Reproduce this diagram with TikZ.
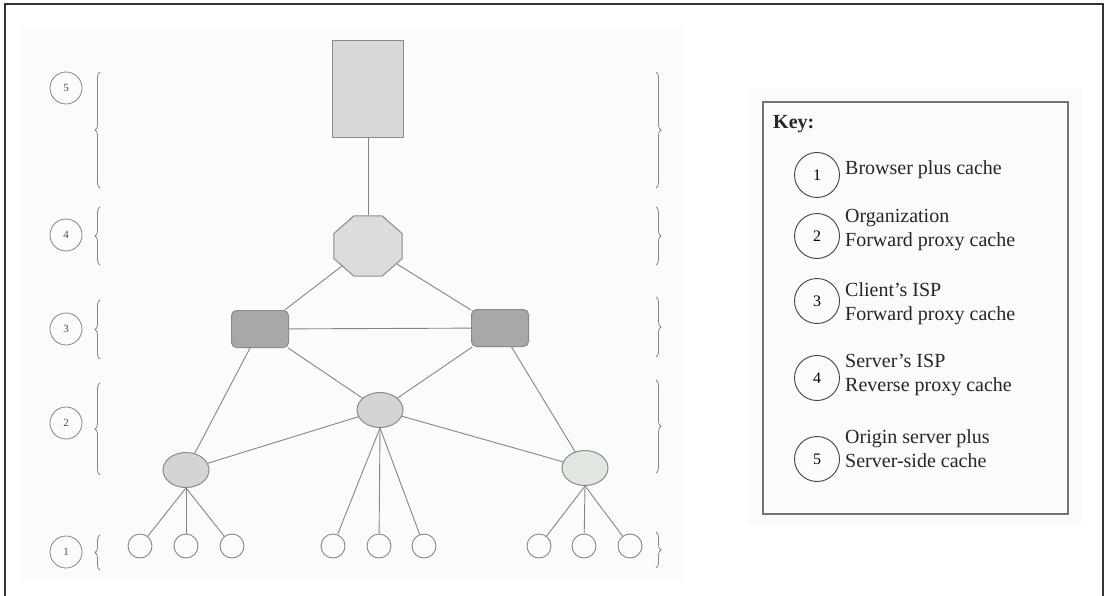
\documentclass[tikz,border=0pt]{standalone}
\usepackage{fontspec}
\setmainfont{Liberation Serif}
\usetikzlibrary{shapes.geometric,decorations.pathreplacing}
\definecolor{lnc}{HTML}{858585}
\definecolor{edgec}{HTML}{8A8A8A}
\definecolor{srvfill}{HTML}{D8D8D8}
\definecolor{octfill}{HTML}{DCDCDC}
\definecolor{ispfill}{HTML}{A8A8A8}
\definecolor{orgfill}{HTML}{D4D4D4}
\definecolor{orgfillb}{HTML}{E0E6E0}
\definecolor{bgc}{HTML}{FBFBFB}
\begin{document}
\begin{tikzpicture}[x=1pt,y=-1pt,
  conn/.style={draw=lnc, line width=0.9pt},
  server/.style={draw=edgec, fill=srvfill, line width=1pt, minimum width=71pt, minimum height=97pt, inner sep=0pt},
  octa/.style={regular polygon, regular polygon sides=8, draw=edgec, fill=octfill, line width=1pt, minimum size=65pt, inner sep=0pt, xscale=1.14, transform shape},
  isp/.style={rounded corners=5pt, draw=edgec, fill=ispfill, line width=1pt, minimum width=57pt, minimum height=37pt, inner sep=0pt},
  org/.style={ellipse, draw=edgec, fill=orgfill, line width=1pt, minimum width=46pt, minimum height=35pt, inner sep=0pt},
  client/.style={circle, draw=lnc, line width=0.9pt, minimum size=24pt, inner sep=0pt},
  lvl/.style={circle, draw=lnc, line width=0.8pt, minimum size=32pt, inner sep=0pt, text=black!70, font=\fontsize{11}{13}\selectfont},
  brc/.style={draw=lnc, line width=0.8pt, decorate, decoration={brace, amplitude=5pt}},
  keynum/.style={circle, draw=black!75, line width=0.9pt, minimum size=45pt, inner sep=0pt, font=\fontsize{16}{18}\selectfont},
  keytxt/.style={anchor=west, align=left, inner sep=0pt, text=black!85, font=\fontsize{20}{24}\selectfont}
]
\useasboundingbox (0,0) rectangle (1108,596);
% faint scan backgrounds
\fill[bgc] (20,27) rectangle (684,579);
\fill[bgc] (747,88) rectangle (1082,526);
% outer frame (no bottom edge visible)
\draw[black!80, line width=1.2pt] (5,596) -- (5,4) -- (1103,4) -- (1103,596);

% nodes
\node[server] (srv) at (368,89) {};
\node[octa] (oct) at (368,246) {};
\node[isp] (ispL) at (260,329) {};
\node[isp] (ispR) at (500,328) {};
\node[org] (orgM) at (380,410) {};
\node[org] (orgL) at (186,470) {};
\node[org, fill=orgfillb] (orgR) at (585,468) {};
\foreach \n/\x in {c1/140, c2/186, c3/232, c4/333, c5/379, c6/424, c7/539, c8/584, c9/630}
  \node[client] (\n) at (\x,546) {};

% connectors
\draw[conn] (srv) -- (oct);
\draw[conn] (oct) -- (ispL);
\draw[conn] (oct) -- (ispR);
\draw[conn] (ispL) -- (ispR);
\draw[conn] (ispL) -- (orgM);
\draw[conn] (ispR) -- (orgM);
\draw[conn] (ispL) -- (orgL);
\draw[conn] (ispR) -- (orgR);
\draw[conn] (orgM) -- (orgL);
\draw[conn] (orgM) -- (orgR);
\foreach \c in {c1,c2,c3} \draw[conn] (orgL.south) -- (\c);
\foreach \c in {c4,c5,c6} \draw[conn] (orgM.south) -- (\c);
\foreach \c in {c7,c8,c9} \draw[conn] (orgR.south) -- (\c);

% level labels
\node[lvl] (l5) at (66,88) {5};
\node[lvl] (l4) at (66,235) {4};
\node[lvl] (l3) at (66,329) {3};
\node[lvl] (l2) at (66,423) {2};
\node[lvl] (l1) at (66,552) {1};

% left braces (tip to the left)
\draw[brc] (100,188) -- (100,72);
\draw[brc] (100,265) -- (100,207);
\draw[brc] (100,359) -- (100,300);
\draw[brc] (100,475) -- (100,383);
\draw[brc] (100,570) -- (100,535);
% right braces (tip to the right)
\draw[brc] (656,72) -- (656,188);
\draw[brc] (656,207) -- (656,265);
\draw[brc] (656,297) -- (656,357);
\draw[brc] (656,380) -- (656,473);
\draw[brc] (656,532) -- (656,568);

% key box
\draw[draw=black!55, line width=1.6pt] (763,102) rectangle (1068,514);
\node[anchor=west, inner sep=0pt, font=\fontsize{20}{24}\selectfont\bfseries, text=black!85] (keyt) at (773,124) {Key:};
\node[keynum] (k1) at (817,175) {1};
\node[keynum] (k2) at (817,236) {2};
\node[keynum] (k3) at (817,301) {3};
\node[keynum] (k4) at (817,378) {4};
\node[keynum] (k5) at (817,459) {5};
\node[keytxt] (t1) at (845,170) {Browser plus cache};
\node[keytxt] (t2) at (845,230) {Organization\\Forward proxy cache};
\node[keytxt] (t3) at (845,304) {Client's ISP\\Forward proxy cache};
\node[keytxt] (t4) at (845,375) {Server's ISP\\Reverse proxy cache};
\node[keytxt] (t5) at (845,449) {Origin server plus\\Server-side cache};
\end{tikzpicture}
\end{document}
